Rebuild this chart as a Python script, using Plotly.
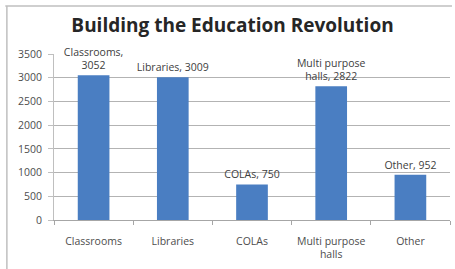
import plotly.graph_objects as go

categories = ["Classrooms", "Libraries", "COLAs", "Multi purpose<br>halls", "Other"]
values = [3052, 3009, 750, 2822, 952]
data_labels = ["Classrooms,<br>3052", "Libraries, 3009", "COLAs, 750", "Multi purpose<br>halls, 2822", "Other, 952"]
y_ticks = [0, 500, 1000, 1500, 2000, 2500, 3000, 3500]

FONT = "Open Sans, Liberation Sans, sans-serif"

fig = go.Figure(go.Bar(
    x=categories, y=values, text=data_labels, textposition="outside",
    constraintext="none",
    textfont=dict(family=FONT, size=10.5, color="#404040"),
    marker=dict(color="#4A7EC2", line=dict(width=0)),
    cliponaxis=False,
))

fig.update_layout(
    width=455, height=269,
    margin=dict(l=54, r=5, t=54, b=49, autoexpand=False),
    paper_bgcolor="white", plot_bgcolor="white",
    bargap=0.6,
    showlegend=False,
    title=dict(text="<b>Building the Education Revolution</b>", x=0.511, xanchor="center",
               y=0.905, yanchor="middle", automargin=False,
               font=dict(family=FONT, size=19, color="#262626")),
    font=dict(family=FONT, size=10.5, color="#4D4D4D"),
    xaxis=dict(showline=True, linecolor="#A6A6A6", linewidth=1, ticks="outside", tickson="boundaries",
               ticklen=4, tickcolor="#A6A6A6", ticklabelstandoff=11, automargin=False,
               tickfont=dict(size=10.5, color="#4D4D4D"), showgrid=False),
    yaxis=dict(range=[0, 3500], tickvals=y_ticks, showgrid=True, gridcolor="#B3B3B3", gridwidth=1,
               showline=True, linecolor="#BFBFBF", ticks="outside", ticklen=5, tickcolor="#BFBFBF",
               ticklabelstandoff=4,
               automargin=False, tickfont=dict(size=10.5, color="#4D4D4D"), zeroline=False),
    shapes=[
        dict(type="line", xref="paper", yref="paper", x0=-0.123, x1=1.005, y0=1.289, y1=1.289,
             line=dict(color="#BFBFBF", width=1.5)),
        dict(type="line", xref="paper", yref="paper", x0=-0.119, x1=-0.119, y0=1.289, y1=-0.3,
             line=dict(color="#BFBFBF", width=1.5)),
    ],
)

fig.write_html("out.html", config={"displayModeBar": False},
               post_script="document.body.style.margin='0';document.body.style.overflow='hidden';")
